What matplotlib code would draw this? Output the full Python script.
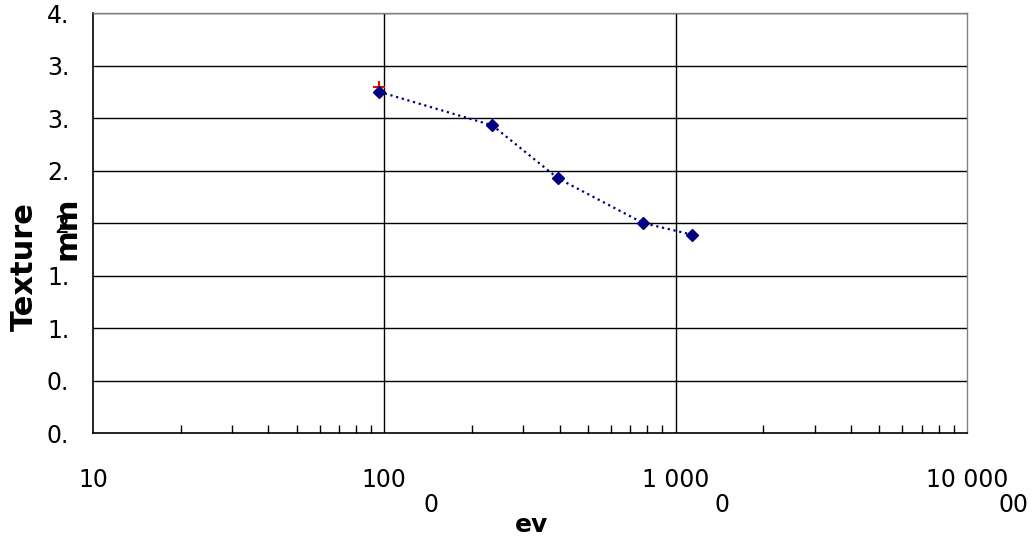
import matplotlib
matplotlib.use('Agg')
import matplotlib.pyplot as plt
from matplotlib.patches import Rectangle

# data
ev = [96, 235, 395, 774, 1135]
texture = [3.25, 2.93, 2.425, 2.0, 1.89]
extra_ev = [96]
extra_texture = [3.30]

y_ticks = [0, 0.5, 1.0, 1.5, 2.0, 2.5, 3.0, 3.5, 4.0]
y_ticklabels = ['0.', '0.', '1.', '1.', '2', '2.', '3.', '3.', '4.']
x_ticks = [10, 100, 1000, 10000]
x_ticklabels = ['10', '100', '1 000', '10 000']

plt.rcParams['font.family'] = ['DejaVu Sans']

W, H = 1033, 542
fig = plt.figure(figsize=(W / 100, H / 100), dpi=100)
ax = fig.add_axes([0.090, 0.201, 0.846, 0.775])

ax.plot(ev, texture, color='#000080', linestyle=':', linewidth=1.6,
        marker='D', markersize=6.5, zorder=3)
ax.plot(extra_ev, extra_texture, color='red', linestyle='none',
        marker='+', markersize=9, markeredgewidth=1.5, zorder=2)

ax.set_xscale('log')
ax.set_xlim(10, 10000)
ax.set_ylim(0, 4)

# grid lines
for y in y_ticks[1:]:
    ax.axhline(y, color='black', linewidth=1, zorder=1)
for x in [100, 1000]:
    ax.axvline(x, color='black', linewidth=1, zorder=1)

ax.set_xticks(x_ticks)
ax.set_xticklabels(x_ticklabels)
ax.set_yticks(y_ticks)
ax.set_yticklabels(y_ticklabels)
ax.tick_params(axis='x', which='major', length=0, pad=25, labelsize=17)
ax.tick_params(axis='x', which='minor', direction='in', length=6, width=1)
ax.tick_params(axis='y', length=0, pad=17, labelsize=17)

for s in ['left', 'bottom']:
    ax.spines[s].set_color('black')
    ax.spines[s].set_linewidth(1.2)
for s in ['top', 'right']:
    ax.spines[s].set_color('#808080')
    ax.spines[s].set_linewidth(1)

# axis titles
fig.text(24 / W, 1 - 267 / H, 'Texture', rotation=90, fontsize=22,
         fontweight='bold', ha='center', va='center')
fig.text(67 / W, 1 - 228 / H, 'mm', rotation=90, fontsize=22,
         fontweight='bold', ha='center', va='center')
fig.text(532 / W, 1 - 525 / H, 'ev', fontsize=18, fontweight='bold',
         ha='center', va='center')

# second-line fragments of the tick labels, cut off at the bottom
for xp, s in [(431, '0'), (722, '0'), (1014, '00')]:
    fig.text(xp / W, 1 - 493 / H, s, fontsize=17, ha='center', va='top')
    fig.patches.append(Rectangle(((xp - 25) / W, 1 - 530 / H), 50 / W, 18 / H,
                                 transform=fig.transFigure, facecolor='white',
                                 edgecolor='none', zorder=10))

fig.savefig('out.png', dpi=100)
